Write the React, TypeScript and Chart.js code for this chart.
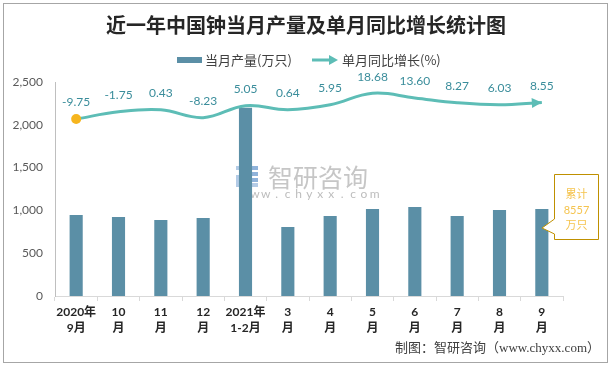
import React, { useEffect, useRef } from "react";
import { Chart, registerables } from "chart.js";
Chart.register(...registerables);

const categories: string[][] = [
  ["2020年", "9月"], ["10", "月"], ["11", "月"], ["12", "月"], ["2021年", "1-2月"],
  ["3", "月"], ["4", "月"], ["5", "月"], ["6", "月"], ["7", "月"], ["8", "月"], ["9", "月"],
];
const production: number[] = [946, 923, 888, 911, 2200, 806, 935, 1016, 1040, 935, 1005, 1016];
const growth: number[] = [-9.75, -1.75, 0.43, -8.23, 5.05, 0.64, 5.95, 18.68, 13.6, 8.27, 6.03, 8.55];
const yTicks: number[] = [0, 500, 1000, 1500, 2000, 2500];
const totalLines: string[] = ["累计", "8557", "万只"];
const titleText = "近一年中国钟当月产量及单月同比增长统计图";
const legendBar = "当月产量(万只)";
const legendLine = "单月同比增长(%)";
const sourceText = "制图：智研咨询（www.chyxx.com）";
const watermarkText = "智研咨询";
const watermarkUrl = "www.chyxx.com";

const BAR = "#5b8fa6";
const LINE = "#5dbdb6";
const LABEL = "#3a8d9b";
const CJK = "'Noto Sans CJK SC'";
const NUM = "Lato, 'Noto Sans CJK SC'";

export default function App() {
  const ref = useRef<HTMLCanvasElement>(null);
  useEffect(() => {
    document.body.style.margin = "0";
    const canvas = ref.current!;
    const decor = {
      id: "decor",
      beforeDraw(chart: any) {
        const ctx = chart.ctx;
        ctx.save();
        ctx.fillStyle = "#ffffff";
        ctx.fillRect(0, 0, chart.width, chart.height);
        ctx.strokeStyle = "#a6a6a6";
        ctx.lineWidth = 1;
        ctx.strokeRect(3.5, 3.5, 604, 359);
        ctx.restore();
      },
      beforeDatasetsDraw(chart: any) {
        const ctx = chart.ctx;
        ctx.save();
        ctx.fillStyle = "#b3cbe6";
        ctx.fillRect(236, 166, 11, 4);
        ctx.fillRect(243, 166, 4, 12);
        ctx.fillRect(236, 175, 11, 4);
        ctx.fillRect(236, 175, 4, 12);
        ctx.fillRect(236, 183, 22, 4);
        ctx.fillStyle = "#8fb3da";
        ctx.fillRect(250, 166, 8, 4);
        ctx.fillRect(250, 172, 8, 4);
        ctx.fillRect(250, 178, 8, 4);
        ctx.fillStyle = "#c6c6c6";
        ctx.font = `25px ${CJK}`;
        ctx.textBaseline = "middle";
        ctx.textAlign = "left";
        ctx.fillText(watermarkText, 268, 177);
        ctx.font = `12px ${NUM}`;
        ctx.fillStyle = "#bdbdbd";
        ctx.textAlign = "center";
        for (let i = 0; i < watermarkUrl.length; i++) {
          ctx.fillText(watermarkUrl[i], 244 + i * 10.9, 194);
        }
        ctx.restore();
      },
      afterDatasetsDraw(chart: any) {
        const ctx = chart.ctx;
        const meta = chart.getDatasetMeta(0);
        ctx.save();
        ctx.font = `12px ${NUM}`;
        ctx.fillStyle = LABEL;
        ctx.textAlign = "center";
        ctx.textBaseline = "middle";
        meta.data.forEach((pt: any, i: number) => {
          ctx.fillText(growth[i].toFixed(2), pt.x, pt.y - 16.5);
        });
        const last = meta.data[meta.data.length - 1];
        const dx = last.x - (last.cp1x ?? last.x - 1);
        const dy = last.y - (last.cp1y ?? last.y);
        const len = Math.hypot(dx, dy) || 1;
        const ux = dx / len, uy = dy / len;
        const L = 10, W = 5;
        const bx = last.x - ux * L, by = last.y - uy * L;
        ctx.fillStyle = LINE;
        ctx.beginPath();
        ctx.moveTo(last.x, last.y);
        ctx.lineTo(bx - uy * W, by + ux * W);
        ctx.lineTo(bx + uy * W, by - ux * W);
        ctx.closePath();
        ctx.fill();
        ctx.restore();
      },
      afterDraw(chart: any) {
        const ctx = chart.ctx;
        ctx.save();
        ctx.fillStyle = "#262626";
        ctx.font = `bold 20px ${CJK}`;
        ctx.textAlign = "center";
        ctx.textBaseline = "middle";
        ctx.fillText(titleText, 306, 25);
        ctx.fillStyle = BAR;
        ctx.fillRect(177, 57, 25, 6);
        ctx.font = `13px ${CJK}`;
        ctx.fillStyle = "#404040";
        ctx.textAlign = "left";
        ctx.fillText(legendBar, 205, 60);
        ctx.strokeStyle = LINE;
        ctx.lineWidth = 3;
        ctx.beginPath();
        ctx.moveTo(312, 60);
        ctx.lineTo(331, 60);
        ctx.stroke();
        ctx.fillStyle = LINE;
        ctx.beginPath();
        ctx.moveTo(338, 60);
        ctx.lineTo(329, 55);
        ctx.lineTo(329, 65);
        ctx.closePath();
        ctx.fill();
        ctx.fillStyle = "#404040";
        ctx.fillText(legendLine, 342, 60);
        ctx.beginPath();
        ctx.moveTo(554.5, 174.5);
        ctx.lineTo(598.5, 174.5);
        ctx.lineTo(598.5, 239.5);
        ctx.lineTo(554.5, 239.5);
        ctx.lineTo(554.5, 234);
        ctx.lineTo(542, 228);
        ctx.lineTo(554.5, 219);
        ctx.closePath();
        ctx.fillStyle = "#ffffff";
        ctx.fill();
        ctx.strokeStyle = "#bf9000";
        ctx.lineWidth = 1;
        ctx.stroke();
        ctx.fillStyle = "#f5c44f";
        ctx.font = `11px ${NUM}`;
        ctx.textAlign = "center";
        totalLines.forEach((t, i) => ctx.fillText(t, 576.5, 194.5 + i * 15.5));
        ctx.fillStyle = "#404040";
        ctx.font = `13px 'Liberation Serif', ${CJK}`;
        ctx.textAlign = "right";
        ctx.fillText(sourceText, 600, 349);
        ctx.restore();
      },
    };
    const chart = new Chart(canvas, {
      type: "bar",
      data: {
        labels: categories,
        datasets: [
          {
            type: "line",
            label: legendLine,
            data: growth,
            yAxisID: "y2",
            borderColor: LINE,
            borderWidth: 3,
            tension: 0.4,
            pointRadius: growth.map((_, i) => (i === 0 ? 5 : 0)),
            pointBackgroundColor: "#f6b51e",
            pointBorderWidth: 0,
            fill: false,
            order: 0,
          } as any,
          {
            type: "bar",
            label: legendBar,
            data: production,
            yAxisID: "y",
            backgroundColor: BAR,
            barPercentage: 0.31,
            categoryPercentage: 1,
            order: 1,
          },
        ],
      },
      options: {
        responsive: false,
        animation: false,
        layout: { padding: { top: 82, right: 50, left: 0, bottom: 0 } },
        plugins: {
          legend: { display: false },
          title: { display: false },
          tooltip: { enabled: false },
        },
        scales: {
          x: {
            grid: {
              display: true,
              offset: true,
              drawOnChartArea: false,
              drawTicks: true,
              tickLength: 5,
              color: "#d9d9d9",
            },
            border: { display: true, color: "#d9d9d9" },
            ticks: {
              color: "#262626",
              font: { family: NUM, size: 12, weight: "bold", lineHeight: 1.33 },
              padding: 3,
              maxRotation: 0,
              autoSkip: false,
            },
            afterFit(s: any) {
              s.height = 72;
            },
          },
          y: {
            min: 0,
            max: 2500,
            afterBuildTicks(s: any) {
              s.ticks = yTicks.map((v) => ({ value: v }));
            },
            ticks: {
              callback: (v: any) => Number(v).toLocaleString("en-US"),
              color: "#595959",
              font: { family: NUM, size: 12 },
              padding: 12,
            },
            grid: { display: false, drawTicks: false },
            border: { display: true, color: "#bfbfbf" },
            afterFit(s: any) {
              s.width = 55;
            },
          },
          y2: { display: false, min: -205.5, max: 31.2 },
        },
      } as any,
      plugins: [decor],
    });
    return () => chart.destroy();
  }, []);
  return (
    <div style={{ width: 613, height: 368 }}>
      <canvas ref={ref} width={613} height={368} style={{ display: "block" }} />
    </div>
  );
}
